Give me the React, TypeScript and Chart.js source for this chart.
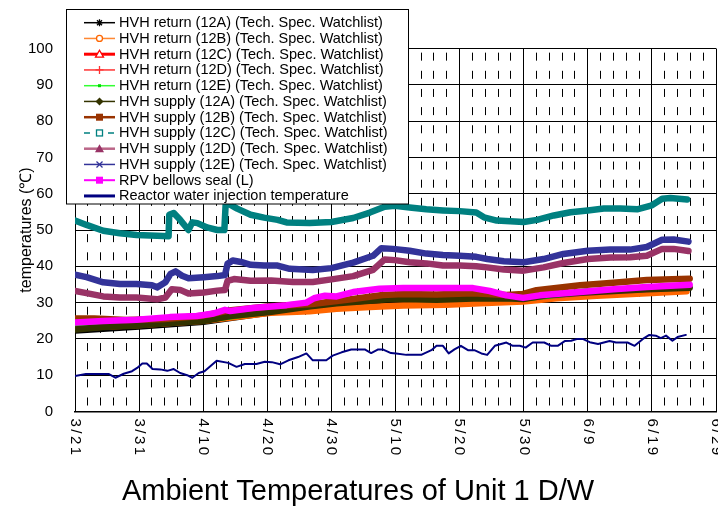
import React, { useEffect, useRef } from 'react';
import { Chart, registerables } from 'chart.js';

Chart.register(...registerables);

const FONT = '"Liberation Sans", Arial, sans-serif';

// x axis: days since 3/21
const xTickDays = [0, 10, 20, 30, 40, 50, 60, 70, 80, 90, 100];
const xTickLabels = ['3/21', '3/31', '4/10', '4/20', '4/30', '5/10', '5/20', '5/30', '6/9', '6/19', '6/29'];

const seriesLabels = [
  'HVH return (12A) (Tech. Spec. Watchlist)',
  'HVH return (12B) (Tech. Spec. Watchlist)',
  'HVH return (12C) (Tech. Spec. Watchlist)',
  'HVH return (12D) (Tech. Spec. Watchlist)',
  'HVH return (12E) (Tech. Spec. Watchlist)',
  'HVH supply (12A) (Tech. Spec. Watchlist)',
  'HVH supply (12B) (Tech. Spec. Watchlist)',
  'HVH supply (12C) (Tech. Spec. Watchlist)',
  'HVH supply (12D) (Tech. Spec. Watchlist)',
  'HVH supply (12E) (Tech. Spec. Watchlist)',
  'RPV bellows seal (L)',
  'Reactor water injection temperature',
];

const return12ADays = [0, 10, 20, 30, 40, 50, 60, 70, 80, 90, 95.5];
const return12ATemps = [22.3, 23.4, 24.7, 27.2, 29.5, 30.8, 30.8, 30.9, 32.6, 33.4, 33.9];

const return12BDays = [0, 10, 20, 25, 30.5, 36.6, 40.8, 46, 51.2, 57.9, 63.1, 69.9, 75.1, 81.4, 89.2, 95.4];
const return12BTemps = [23.0, 23.8, 25.0, 26.0, 27.2, 27.6, 28.3, 28.8, 29.2, 29.4, 29.8, 30.3, 31.2, 31.9, 32.6, 33.1];

const return12CDays = [0, 10, 20, 23.5, 30, 40, 50, 60, 70, 80, 90, 95.5];
const return12CTemps = [23.8, 24.5, 25.5, 26.8, 28.0, 30.0, 31.8, 31.8, 31.4, 33.0, 34.0, 34.5];

const return12DDays = [0, 10, 20, 24, 30, 40, 50, 60, 70, 80, 90, 95.5];
const return12DTemps = [23.5, 24.3, 25.3, 26.5, 27.8, 29.8, 31.5, 31.5, 31.2, 32.8, 33.8, 34.3];

const return12EDays = [0, 10, 20, 30, 40, 47, 55, 62, 70, 80, 90, 95.5];
const return12ETemps = [23.2, 24.0, 25.2, 27.6, 29.9, 31.4, 31.4, 31.5, 31.2, 33.1, 33.9, 34.2];

const supply12ADays = [0, 4.4, 9.6, 14.8, 20, 24.2, 30.4, 36.7, 40.8, 46, 49.2, 51.2, 56.4, 62.1, 67.3, 69.9, 73.5, 78.8, 84, 89.2, 95.9];
const supply12ATemps = [22.6, 23.3, 23.7, 24.4, 24.9, 26.3, 27.4, 29.0, 29.8, 30.5, 31.0, 31.0, 30.8, 31.1, 31.2, 31.0, 32.0, 32.7, 33.2, 33.7, 34.1];

const supply12BDays = [0, 3, 8, 14, 20, 24, 30.5, 37, 43.4, 48, 51.2, 56.4, 62.1, 67.3, 69.9, 72, 78.8, 84, 89.2, 95.9];
const supply12BTemps = [25.6, 25.6, 25.2, 25.5, 26.4, 27.8, 29.0, 29.6, 31.0, 32.1, 32.4, 32.2, 32.6, 32.1, 32.4, 33.4, 34.8, 35.5, 36.2, 36.6];

const supply12CDays = [0, 1.8, 4.4, 7.0, 9.6, 12.8, 14.6, 14.7, 15.4, 16.4, 17.7, 18.3, 19.1, 20.6, 22.2, 23.3, 23.5, 24.0, 25.3, 27.4, 29.5, 31.6, 33.0, 36.6, 40.0, 43.4, 46.0, 48.3, 49.9, 52.2, 54.8, 57.4, 60.0, 62.6, 63.8, 65.8, 67.9, 70.0, 72.1, 74.7, 77.3, 80.0, 82.5, 85.1, 87.7, 90.0, 91.6, 92.9, 95.5];
const supply12CTemps = [52.6, 51.4, 49.8, 49.1, 48.6, 48.4, 48.3, 54.2, 54.7, 52.8, 50.0, 52.1, 51.9, 50.7, 50.0, 50.0, 57.0, 57.2, 55.9, 54.2, 53.4, 52.8, 52.1, 51.9, 52.2, 53.3, 54.8, 56.4, 56.7, 56.2, 55.7, 55.4, 55.2, 54.8, 53.5, 52.6, 52.4, 52.2, 52.8, 54.0, 54.9, 55.4, 55.9, 55.9, 55.7, 56.8, 58.6, 58.8, 58.4];

const supply12DDays = [0, 1.8, 4.4, 7.0, 9.6, 12.8, 14.1, 15.1, 16.4, 17.7, 20.1, 22.2, 23.4, 23.8, 24.8, 27.4, 30.6, 34.0, 37.1, 40.0, 43.4, 46.5, 48.3, 49.9, 52.2, 54.8, 57.4, 60.0, 62.6, 64.3, 66.9, 70.0, 73.1, 76.2, 80.0, 83.5, 86.6, 89.2, 91.6, 93.4, 95.7];
const supply12DTemps = [33.2, 32.6, 31.7, 31.4, 31.4, 30.9, 31.4, 33.7, 33.5, 32.5, 32.8, 33.3, 33.5, 36.0, 36.5, 36.0, 36.1, 35.7, 35.7, 36.4, 37.3, 39.0, 41.9, 41.7, 41.1, 40.8, 40.2, 40.2, 40.0, 39.7, 39.1, 38.8, 39.7, 40.9, 42.0, 42.4, 42.5, 42.9, 44.8, 44.8, 44.2];

const supply12EDays = [0, 1.8, 4.4, 7.0, 9.6, 12.0, 12.8, 14.1, 14.9, 15.7, 16.7, 17.7, 20.1, 22.2, 23.4, 23.8, 24.6, 25.9, 27.4, 29.5, 31.6, 33.5, 37.1, 40.0, 43.4, 46.5, 47.8, 49.6, 52.2, 54.8, 57.4, 60.0, 62.6, 64.3, 66.9, 70.0, 73.1, 76.2, 80.0, 83.5, 86.6, 89.2, 91.6, 93.4, 95.7];
const supply12ETemps = [37.7, 37.0, 35.6, 35.1, 35.1, 34.8, 34.2, 35.6, 37.9, 38.6, 37.4, 36.7, 37.0, 37.3, 37.6, 40.7, 41.6, 41.2, 40.4, 40.2, 40.2, 39.3, 39.0, 39.5, 41.0, 42.9, 45.0, 44.8, 44.3, 43.5, 43.1, 42.9, 42.6, 42.0, 41.4, 41.1, 42.0, 43.4, 44.3, 44.6, 44.6, 45.3, 47.3, 47.4, 46.8];

const rpvDays = [0, 4.4, 9.6, 14.8, 19.0, 21.6, 23.4, 24.2, 27.8, 33.0, 36.1, 37.3, 39.0, 40.8, 43.4, 47.5, 51.2, 56.4, 62.1, 64.7, 67.3, 69.9, 72.5, 78.8, 84.0, 89.2, 95.9];
const rpvTemps = [24.5, 24.9, 25.3, 26.0, 26.3, 27.0, 28.0, 27.7, 28.5, 29.3, 30.0, 31.2, 31.9, 31.7, 32.9, 33.8, 34.0, 34.0, 34.0, 33.2, 32.0, 31.3, 32.0, 32.9, 33.7, 34.3, 34.9];

const reactorDays = [0, 1.7, 5.3, 6.3, 7.6, 8.9, 9.7, 10.5, 11.2, 12.1, 13.3, 14.4, 15.4, 16.4, 17.5, 18.3, 19.3, 20.2, 22.1, 23.9, 25.2, 26.5, 28.3, 29.6, 30.7, 32.0, 33.3, 34.8, 36.1, 37.1, 39.2, 40.2, 41.6, 43.1, 45.2, 46.2, 47.3, 48.0, 49.3, 50.1, 51.7, 54.0, 55.6, 56.4, 57.4, 58.3, 59.2, 60.2, 61.3, 62.3, 63.4, 64.3, 65.5, 67.3, 68.3, 69.4, 70.3, 71.4, 73.2, 74.3, 75.3, 76.4, 77.4, 78.4, 79.2, 80.3, 81.6, 83.4, 84.4, 86.2, 87.3, 88.6, 89.6, 90.6, 91.4, 92.2, 93.2, 94.0, 95.3];
const reactorTemps = [9.8, 10.3, 10.3, 9.3, 10.4, 11.1, 12.0, 13.2, 13.2, 11.7, 11.6, 11.2, 11.7, 10.6, 10.0, 9.3, 10.6, 11.1, 14.0, 13.4, 12.3, 13.1, 13.1, 13.7, 13.6, 13.0, 14.1, 15.0, 16.0, 14.1, 14.1, 15.4, 16.3, 17.1, 17.1, 16.1, 17.1, 17.1, 16.1, 16.0, 15.6, 15.6, 16.9, 18.1, 18.1, 16.0, 17.1, 18.1, 16.9, 16.9, 16.0, 15.6, 18.1, 19.0, 18.1, 18.1, 17.6, 19.0, 19.0, 18.1, 18.1, 19.4, 19.5, 20.0, 20.0, 19.1, 18.6, 19.4, 19.0, 19.0, 18.1, 20.0, 21.1, 20.9, 20.2, 20.9, 19.5, 20.5, 21.1];

const seriesDays = [return12ADays, return12BDays, return12CDays, return12DDays, return12EDays, supply12ADays, supply12BDays, supply12CDays, supply12DDays, supply12EDays, rpvDays, reactorDays];
const seriesTemps = [return12ATemps, return12BTemps, return12CTemps, return12DTemps, return12ETemps, supply12ATemps, supply12BTemps, supply12CTemps, supply12DTemps, supply12ETemps, rpvTemps, reactorTemps];

// styles
const seriesStyles = [
  { color: '#000000', width: 6.5, legendWidth: 1.5, marker: 'star' },
  { color: '#FF6600', width: 6.5, legendWidth: 1.5, marker: 'circleHollow', legendColor: '#FF8833' },
  { color: '#FF0000', width: 6.5, legendWidth: 3, marker: 'triangleHollow' },
  { color: '#FF3333', width: 6.5, legendWidth: 1.5, marker: 'plus' },
  { color: '#00DD00', width: 6.5, legendWidth: 1.5, marker: 'dot', legendColor: '#33FF33' },
  { color: '#333300', width: 6.5, legendWidth: 1.5, marker: 'diamond' },
  { color: '#993300', width: 6.5, legendWidth: 2.5, marker: 'rectFilled' },
  { color: '#008080', width: 6.5, legendWidth: 1.5, marker: 'rectHollow', legendDash: [6, 6] },
  { color: '#993366', width: 6.5, legendWidth: 2.5, marker: 'triangleFilled', legendColor: '#BB6688' },
  { color: '#333399', width: 6.5, legendWidth: 1.5, marker: 'cross' },
  { color: '#FF00FF', width: 6.5, legendWidth: 2, marker: 'rectFilled' },
  { color: '#000080', width: 2, legendWidth: 3, marker: 'none' },
];

function drawMarker(ctx: CanvasRenderingContext2D, kind: string, x: number, y: number, color: string) {
  ctx.save();
  ctx.setLineDash([]);
  ctx.strokeStyle = color;
  ctx.fillStyle = color;
  ctx.lineWidth = 1.3;
  const r = 3.5;
  switch (kind) {
    case 'star':
      ctx.beginPath();
      ctx.moveTo(x - r, y); ctx.lineTo(x + r, y);
      ctx.moveTo(x, y - r); ctx.lineTo(x, y + r);
      ctx.moveTo(x - 2.5, y - 2.5); ctx.lineTo(x + 2.5, y + 2.5);
      ctx.moveTo(x - 2.5, y + 2.5); ctx.lineTo(x + 2.5, y - 2.5);
      ctx.stroke();
      break;
    case 'circleHollow':
      ctx.beginPath(); ctx.arc(x, y, 3, 0, Math.PI * 2);
      ctx.fillStyle = '#fff'; ctx.fill(); ctx.stroke();
      break;
    case 'triangleHollow':
      ctx.beginPath(); ctx.moveTo(x, y - 4); ctx.lineTo(x + 4, y + 3); ctx.lineTo(x - 4, y + 3); ctx.closePath();
      ctx.fillStyle = '#fff'; ctx.fill(); ctx.stroke();
      break;
    case 'plus':
      ctx.beginPath(); ctx.moveTo(x - 4, y); ctx.lineTo(x + 4, y); ctx.moveTo(x, y - 4); ctx.lineTo(x, y + 4); ctx.stroke();
      break;
    case 'dot':
      ctx.fillRect(x - 1.5, y - 1.5, 3, 3);
      break;
    case 'diamond':
      ctx.beginPath(); ctx.moveTo(x, y - 4); ctx.lineTo(x + 4, y); ctx.lineTo(x, y + 4); ctx.lineTo(x - 4, y); ctx.closePath(); ctx.fill();
      break;
    case 'rectFilled':
      ctx.fillRect(x - 3.5, y - 3.5, 7, 7);
      break;
    case 'rectHollow':
      ctx.fillStyle = '#fff'; ctx.fillRect(x - 3, y - 3, 6, 6); ctx.strokeRect(x - 3, y - 3, 6, 6);
      break;
    case 'triangleFilled':
      ctx.fillStyle = '#993366';
      ctx.beginPath(); ctx.moveTo(x, y - 4.5); ctx.lineTo(x + 4.5, y + 3.5); ctx.lineTo(x - 4.5, y + 3.5); ctx.closePath(); ctx.fill();
      break;
    case 'cross':
      ctx.beginPath(); ctx.moveTo(x - 3, y - 3); ctx.lineTo(x + 3, y + 3); ctx.moveTo(x - 3, y + 3); ctx.lineTo(x + 3, y - 3); ctx.stroke();
      break;
    default:
      break;
  }
  ctx.restore();
}

const boxLegendPlugin = {
  id: 'boxLegend',
  afterDatasetsDraw(chart: any) {
    const ctx: CanvasRenderingContext2D = chart.ctx;
    ctx.save();
    const x0 = 66.5, y0 = 9.5, w = 342, h = 194.5;
    ctx.fillStyle = '#ffffff';
    ctx.fillRect(x0, y0, w, h);
    ctx.strokeStyle = '#000';
    ctx.lineWidth = 1;
    ctx.strokeRect(x0, y0, w, h);
    chart.data.datasets.forEach((ds: any, i: number) => {
      const st: any = seriesStyles[i];
      const cy = 22.7 + i * 15.75;
      const lc = st.legendColor || st.color;
      ctx.beginPath();
      ctx.setLineDash(st.legendDash || []);
      ctx.strokeStyle = lc;
      ctx.lineWidth = st.legendWidth;
      ctx.moveTo(84, cy);
      ctx.lineTo(115, cy);
      ctx.stroke();
      ctx.setLineDash([]);
      drawMarker(ctx, st.marker, 99.5, cy, st.color);
      ctx.fillStyle = '#000';
      ctx.font = '14.5px ' + FONT;
      ctx.textAlign = 'left';
      ctx.textBaseline = 'middle';
      ctx.fillText(ds.label, 119, cy + 0.5);
    });
    ctx.restore();
  },
};

const xLabelPlugin = {
  id: 'xLabels',
  afterDraw(chart: any) {
    const ctx: CanvasRenderingContext2D = chart.ctx;
    const xs = chart.scales.x;
    ctx.save();
    ctx.fillStyle = '#000';
    ctx.font = '15px ' + FONT;
    (ctx as any).letterSpacing = '2.5px';
    ctx.textAlign = 'left';
    ctx.textBaseline = 'middle';
    xTickDays.forEach((d, i) => {
      const px = xs.getPixelForValue(d);
      ctx.save();
      ctx.translate(px, xs.top + 7);
      ctx.rotate(Math.PI / 2);
      ctx.fillText(xTickLabels[i], 0, 0);
      ctx.restore();
    });
    ctx.restore();
  },
};

export default function App() {
  const ref = useRef<HTMLCanvasElement | null>(null);

  useEffect(() => {
    document.body.style.margin = '0';
    const canvas = ref.current;
    if (!canvas) return;
    const datasets = seriesLabels.map((label, i) => {
      const st: any = seriesStyles[i];
      return {
        label,
        data: seriesDays[i].map((x, j) => ({ x, y: seriesTemps[i][j] })),
        borderColor: st.color,
        backgroundColor: st.color,
        borderWidth: st.width,
        pointRadius: 0,
        tension: 0,
        fill: false,
        order: seriesLabels.length - i,
        borderJoinStyle: 'round' as const,
        borderCapStyle: 'round' as const,
      };
    });

    const chart = new Chart(canvas, {
      type: 'line',
      data: { datasets },
      plugins: [boxLegendPlugin, xLabelPlugin],
      options: {
        animation: false,
        responsive: false,
        layout: { padding: { left: 0, right: 2, top: 48.5, bottom: 0 } },
        plugins: {
          legend: { display: false },
          tooltip: { enabled: false },
          title: {
            display: true,
            position: 'bottom',
            text: 'Ambient Temperatures of Unit 1 D/W',
            color: '#000',
            font: { size: 29, family: FONT, weight: 'normal' },
            padding: { top: 12, bottom: 2 },
          },
        },
        scales: {
          x: {
            type: 'linear',
            min: 0,
            max: 100,
            afterFit: (s: any) => { s.height = 50.7; },
            ticks: { display: false, stepSize: 2, autoSkip: false },
            grid: {
              color: '#000',
              lineWidth: 1,
              drawTicks: false,
            },
            border: {
              display: true,
              color: '#000',
              width: 1.5,
              dash: (c: any) => (c.tick && Math.round(c.tick.value) % 10 !== 0 ? [8, 10.15] : []),
              dashOffset: 14,
            },
          },
          y: {
            min: 0,
            max: 100,
            afterFit: (s: any) => { s.width = 75; },
            ticks: { stepSize: 10, padding: 22, color: '#000', font: { size: 15, family: FONT } },
            grid: { color: '#000', lineWidth: 1, drawTicks: false },
            border: { color: '#000', width: 1 },
            title: {
              display: true,
              text: 'temperatures (℃)',
              color: '#000',
              font: { size: 16, family: FONT },
              padding: { top: 17, bottom: 0 },
            },
          },
        },
      } as any,
    });
    return () => chart.destroy();
  }, []);

  return (
    <div style={{ width: 718, height: 511 }}>
      <canvas ref={ref} width={718} height={511} style={{ display: 'block', width: 718, height: 511 }} />
    </div>
  );
}
